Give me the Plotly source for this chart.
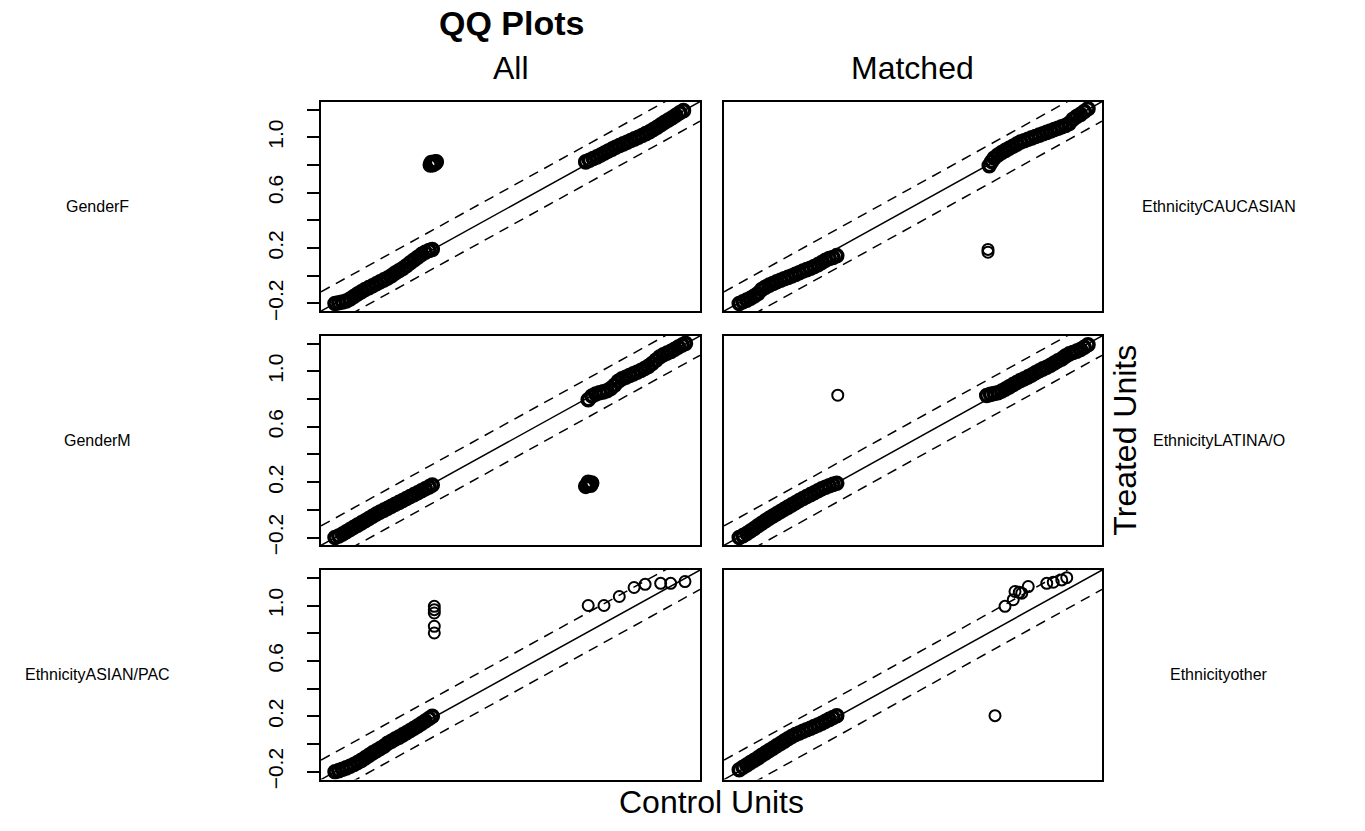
import plotly.graph_objects as go

# ---------------- data ----------------
panel_titles = ["All", "Matched"]
row_labels_left = ["GenderF", "GenderM", "EthnicityASIAN/PAC"]
row_labels_right = ["EthnicityCAUCASIAN", "EthnicityLATINA/O", "Ethnicityother"]
y_tick_vals = [-0.2, 0.0, 0.2, 0.4, 0.6, 0.8, 1.0, 1.2]
y_tick_text = ["\u22120.2", "", "0.2", "", "0.6", "", "1.0", ""]
data_range = [-0.2, 1.2]

# Panel 1: GenderF, All
p1_low_x = [-0.200,-0.185,-0.170,-0.155,-0.140,-0.125,-0.110,-0.095,-0.080,-0.065,-0.050,-0.035,-0.020,-0.005,0.010,0.025,0.040,0.055,0.070,0.085,0.100,0.115,0.130,0.145,0.160,0.175,0.188]
p1_low_y = [-0.200,-0.195,-0.190,-0.182,-0.168,-0.150,-0.132,-0.115,-0.100,-0.086,-0.072,-0.058,-0.044,-0.030,-0.016,0.000,0.020,0.036,0.052,0.072,0.094,0.114,0.134,0.154,0.170,0.182,0.190]
p1_mid_x = [0.180,0.186,0.192,0.198,0.204,0.190,0.200,0.184]
p1_mid_y = [0.800,0.808,0.815,0.820,0.822,0.802,0.812,0.818]
p1_up_x = [0.800,0.815,0.830,0.845,0.860,0.875,0.890,0.905,0.920,0.935,0.950,0.965,0.980,0.995,1.010,1.025,1.040,1.055,1.070,1.085,1.100,1.115,1.130,1.145,1.160,1.175,1.190]
p1_up_y = [0.822,0.834,0.846,0.858,0.872,0.886,0.900,0.914,0.928,0.940,0.952,0.964,0.976,0.988,1.000,1.012,1.026,1.040,1.056,1.072,1.090,1.108,1.124,1.140,1.158,1.176,1.192]

# Panel 2: EthnicityCAUCASIAN, Matched
p2_low_x = [-0.195,-0.180,-0.165,-0.150,-0.135,-0.120,-0.105,-0.090,-0.075,-0.060,-0.045,-0.030,-0.015,0.000,0.015,0.030,0.045,0.060,0.075,0.090,0.105,0.120,0.135,0.150,0.165,0.180,0.195]
p2_low_y = [-0.200,-0.188,-0.176,-0.162,-0.146,-0.128,-0.100,-0.082,-0.068,-0.056,-0.044,-0.032,-0.022,-0.012,-0.002,0.010,0.022,0.034,0.044,0.054,0.066,0.080,0.096,0.112,0.124,0.132,0.145]
p2_mid_x = [0.800,0.800]
p2_mid_y = [0.170,0.190]
p2_up_x = [0.805,0.815,0.825,0.840,0.855,0.870,0.885,0.900,0.915,0.930,0.945,0.960,0.975,0.990,1.005,1.020,1.035,1.050,1.065,1.080,1.095,1.110,1.125,1.140,1.155,1.170,1.185,1.200]
p2_up_y = [0.795,0.825,0.850,0.872,0.890,0.905,0.920,0.935,0.950,0.965,0.975,0.985,0.995,1.005,1.015,1.025,1.035,1.045,1.055,1.065,1.075,1.085,1.100,1.130,1.150,1.165,1.185,1.205]

# Panel 3: GenderM, All
p3_low_x = [-0.200,-0.185,-0.170,-0.155,-0.140,-0.125,-0.110,-0.095,-0.080,-0.065,-0.050,-0.035,-0.020,-0.005,0.010,0.025,0.040,0.055,0.070,0.085,0.100,0.115,0.130,0.145,0.160,0.175,0.188]
p3_low_y = [-0.200,-0.188,-0.174,-0.158,-0.142,-0.126,-0.110,-0.094,-0.078,-0.062,-0.046,-0.030,-0.016,-0.002,0.012,0.026,0.040,0.054,0.068,0.082,0.096,0.110,0.124,0.138,0.152,0.166,0.180]
p3_mid_x = [0.800,0.806,0.812,0.818,0.824,0.810,0.815,0.820]
p3_mid_y = [0.170,0.176,0.182,0.188,0.194,0.200,0.186,0.178]
p3_up_x = [0.810,0.825,0.840,0.855,0.870,0.885,0.900,0.915,0.930,0.945,0.960,0.975,0.990,1.005,1.020,1.035,1.050,1.065,1.080,1.095,1.110,1.125,1.140,1.155,1.170,1.185,1.198]
p3_up_y = [0.795,0.822,0.836,0.846,0.852,0.860,0.876,0.900,0.928,0.946,0.958,0.970,0.982,0.994,1.006,1.020,1.036,1.056,1.080,1.104,1.120,1.132,1.144,1.160,1.176,1.190,1.202]

# Panel 4: EthnicityLATINA/O, Matched
p4_low_x = [-0.195,-0.180,-0.165,-0.150,-0.135,-0.120,-0.105,-0.090,-0.075,-0.060,-0.045,-0.030,-0.015,0.000,0.015,0.030,0.045,0.060,0.075,0.090,0.105,0.120,0.135,0.150,0.165,0.180,0.195]
p4_low_y = [-0.200,-0.186,-0.170,-0.152,-0.134,-0.114,-0.096,-0.078,-0.060,-0.044,-0.028,-0.012,0.004,0.020,0.036,0.052,0.068,0.082,0.096,0.110,0.124,0.138,0.152,0.164,0.174,0.184,0.192]
p4_mid_x = [0.199]
p4_mid_y = [0.828]
p4_up_x = [0.795,0.810,0.825,0.840,0.855,0.870,0.885,0.900,0.915,0.930,0.945,0.960,0.975,0.990,1.005,1.020,1.035,1.050,1.065,1.080,1.095,1.110,1.125,1.140,1.155,1.170,1.185,1.200]
p4_up_y = [0.826,0.834,0.840,0.846,0.858,0.872,0.888,0.904,0.920,0.934,0.946,0.960,0.974,0.990,1.004,1.018,1.030,1.044,1.060,1.076,1.090,1.110,1.126,1.136,1.146,1.158,1.174,1.192]

# Panel 5: EthnicityASIAN/PAC, All
p5_low_x = [-0.200,-0.185,-0.170,-0.155,-0.140,-0.125,-0.110,-0.095,-0.080,-0.065,-0.050,-0.035,-0.020,-0.005,0.010,0.025,0.040,0.055,0.070,0.085,0.100,0.115,0.130,0.145,0.160,0.175,0.188]
p5_low_y = [-0.200,-0.192,-0.182,-0.172,-0.160,-0.148,-0.134,-0.118,-0.100,-0.082,-0.064,-0.048,-0.032,-0.016,0.006,0.020,0.036,0.050,0.066,0.082,0.098,0.114,0.130,0.148,0.166,0.184,0.200]
p5_mid_x = [0.196,0.196,0.196,0.196,0.196]
p5_mid_y = [0.994,0.970,0.946,0.850,0.802]
p5_up_x = [0.810,0.873,0.934,0.993,1.037,1.099,1.139,1.196]
p5_up_y = [1.000,1.000,1.065,1.130,1.153,1.160,1.160,1.173]

# Panel 6: Ethnicityother, Matched
p6_low_x = [-0.195,-0.180,-0.165,-0.150,-0.135,-0.120,-0.105,-0.090,-0.075,-0.060,-0.045,-0.030,-0.015,0.000,0.015,0.030,0.045,0.060,0.075,0.090,0.105,0.120,0.135,0.150,0.165,0.180,0.195]
p6_low_y = [-0.186,-0.168,-0.151,-0.134,-0.117,-0.100,-0.081,-0.064,-0.047,-0.030,-0.013,0.004,0.021,0.038,0.055,0.069,0.080,0.092,0.103,0.114,0.126,0.137,0.150,0.164,0.178,0.191,0.204]
p6_mid_x = [0.828]
p6_mid_y = [0.205]
p6_up_x = [0.868,0.901,0.908,0.925,0.935,0.961,1.035,1.061,1.095,1.115]
p6_up_y = [0.994,1.042,1.101,1.095,1.089,1.137,1.160,1.168,1.185,1.201]

# clusters per panel: (x, y, dense?)
panels = [
    [(p1_low_x, p1_low_y, True), (p1_mid_x, p1_mid_y, True), (p1_up_x, p1_up_y, True)],
    [(p2_low_x, p2_low_y, True), (p2_mid_x, p2_mid_y, False), (p2_up_x, p2_up_y, True)],
    [(p3_low_x, p3_low_y, True), (p3_mid_x, p3_mid_y, True), (p3_up_x, p3_up_y, True)],
    [(p4_low_x, p4_low_y, True), (p4_mid_x, p4_mid_y, False), (p4_up_x, p4_up_y, True)],
    [(p5_low_x, p5_low_y, True), (p5_mid_x, p5_mid_y, False), (p5_up_x, p5_up_y, False)],
    [(p6_low_x, p6_low_y, True), (p6_mid_x, p6_mid_y, False), (p6_up_x, p6_up_y, False)],
]

# ---------------- layout geometry ----------------
W, H = 1365, 831
col_px = [(321, 700), (724, 1102)]
row_px = [(103, 315), (340, 552), (577, 789)]
FONT = "Liberation Sans, Arial, Helvetica, sans-serif"

span = data_range[1] - data_range[0]
ax_min = data_range[0] - 0.04 * span
ax_max = data_range[1] + 0.04 * span
band = 0.1 * span

fig = go.Figure()
layout = dict(
    width=W, height=H, margin=dict(l=0, r=0, t=0, b=0),
    paper_bgcolor="white", plot_bgcolor="white", showlegend=False,
    font=dict(family=FONT, color="black"),
)

for i in range(6):
    r, c = divmod(i, 2)
    n = i + 1
    xa = "xaxis" if n == 1 else f"xaxis{n}"
    ya = "yaxis" if n == 1 else f"yaxis{n}"
    xr = "x" if n == 1 else f"x{n}"
    yr = "y" if n == 1 else f"y{n}"
    x0, x1 = col_px[c]
    y0, y1 = row_px[r]
    layout[xa] = dict(domain=[x0 / W, x1 / W], range=[ax_min, ax_max], anchor=yr,
                      showgrid=False, zeroline=False, showticklabels=False, ticks="",
                      showline=True, mirror=True, linecolor="black", linewidth=1.8)
    ydict = dict(domain=[1 - y1 / H, 1 - y0 / H], range=[ax_min, ax_max], anchor=xr,
                 showgrid=False, zeroline=False, showline=True, mirror=True,
                 linecolor="black", linewidth=1.8)
    if c == 0:
        ydict.update(tickmode="array", tickvals=y_tick_vals, ticktext=y_tick_text,
                     ticks="outside", ticklen=12, tickwidth=1.5, tickcolor="black",
                     tickangle=-90, tickfont=dict(size=21, family=FONT, color="black"),
                     ticklabelstandoff=16)
    else:
        ydict.update(showticklabels=False, ticks="")
    layout[ya] = ydict

    # reference lines
    fig.add_trace(go.Scatter(x=[ax_min, ax_max], y=[ax_min, ax_max], mode="lines",
                             line=dict(color="black", width=1.5), xaxis=xr, yaxis=yr,
                             hoverinfo="skip"))
    for off in (band, -band):
        fig.add_trace(go.Scatter(x=[ax_min, ax_max], y=[ax_min + off, ax_max + off],
                                 mode="lines",
                                 line=dict(color="black", width=1.5, dash="10px,7px"),
                                 xaxis=xr, yaxis=yr, hoverinfo="skip"))
    for cx, cy, dense in panels[i]:
        if dense:
            mk = dict(symbol="circle-open", size=12, color="black",
                      line=dict(width=3.6, color="black"))
        else:
            mk = dict(symbol="circle-open", size=11, color="black",
                      line=dict(width=2.0, color="black"))
        fig.add_trace(go.Scatter(x=cx, y=cy, mode="markers", marker=mk,
                                 xaxis=xr, yaxis=yr))

ann = []
def add_text(text, x, y, size, bold=False, angle=0):
    ann.append(dict(text=f"<b>{text}</b>" if bold else text, x=x / W, y=1 - y / H,
                    xref="paper", yref="paper", showarrow=False, textangle=angle,
                    xanchor="center", yanchor="middle",
                    font=dict(family=FONT, size=size, color="black")))

add_text("QQ Plots", 511, 23, 34, bold=True)
add_text(panel_titles[0], (col_px[0][0] + col_px[0][1]) / 2, 69, 32)
add_text(panel_titles[1], (col_px[1][0] + col_px[1][1]) / 2, 69, 32)
add_text("Control Units", (col_px[0][0] + col_px[1][1]) / 2, 812, 32)
add_text("Treated Units", 1125, (row_px[0][0] + row_px[2][1]) / 2, 32, angle=-90)
for r in range(3):
    yc = (row_px[r][0] + row_px[r][1]) / 2
    add_text(row_labels_left[r], 97, yc, 16)
    add_text(row_labels_right[r], 1219, yc, 16)

layout["annotations"] = ann
fig.update_layout(**layout)
fig.write_html("out.html", config={"displayModeBar": False},
               post_script="document.body.style.margin='0px';document.body.style.overflow='hidden';")
